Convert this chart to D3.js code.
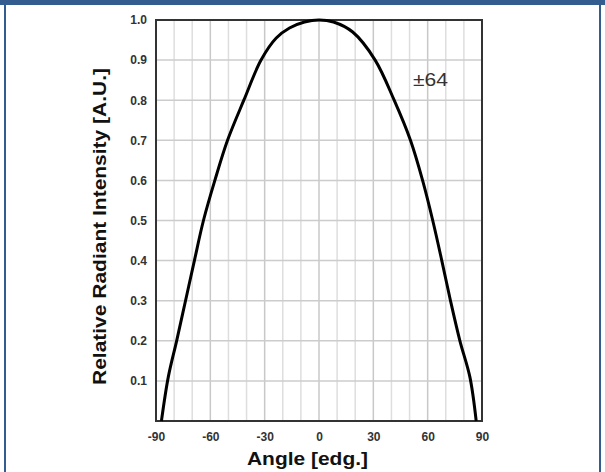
<!DOCTYPE html>
<html>
<head>
<meta charset="utf-8">
<script src="https://cdn.jsdelivr.net/npm/d3@7"></script>
<style>
  body { margin: 0; background: #fff; }
  svg { display: block; font-family: "Liberation Sans", Arial, sans-serif; }
</style>
</head>
<body>
<div id="chart"></div>
<script>
// Radiation pattern
const angles = [-87, -83.2, -78.6, -73.7, -68.8, -63.8, -57.5, -50.5, -41.5, -32, -23.6, -16.3, -8, 0,
                8, 18.6, 31, 41.5, 50.5, 57.2, 62.8, 67.8, 72.6, 77.8, 83.3, 86.8];
const intensity = [0, 0.11, 0.2, 0.3, 0.4, 0.5, 0.6, 0.7, 0.8, 0.9, 0.955, 0.98, 0.995, 1.0,
                   0.995, 0.97, 0.9, 0.8, 0.7, 0.6, 0.5, 0.4, 0.3, 0.2, 0.11, 0];
const xTicks = [-90, -60, -30, 0, 30, 60, 90];
const yTicks = [0.1, 0.2, 0.3, 0.4, 0.5, 0.6, 0.7, 0.8, 0.9, 1.0];
const annotation = '±64';

const W = 605, H = 472;
const plot = { left: 156, top: 20, right: 482, bottom: 421 };

const svg = d3.select('#chart').append('svg')
    .attr('width', W)
    .attr('height', H);

// blue frame
svg.append('rect').attr('x', 0).attr('y', 0).attr('width', W).attr('height', 5).attr('fill', '#335d8f');
svg.append('rect').attr('x', 4).attr('y', 0).attr('width', 2).attr('height', H).attr('fill', '#335d8f');
svg.append('rect').attr('x', 599).attr('y', 0).attr('width', 2).attr('height', H).attr('fill', '#335d8f');

const x = d3.scaleLinear().domain([-90, 90]).range([plot.left, plot.right]);
const y = d3.scaleLinear().domain([0, 1]).range([plot.bottom, plot.top]);

// grid
svg.append('g')
    .selectAll('line')
    .data(d3.range(-80, 90, 10))
    .enter().append('line')
    .attr('x1', d => x(d)).attr('x2', d => x(d))
    .attr('y1', plot.top).attr('y2', plot.bottom)
    .attr('stroke', d => d % 30 === 0 ? '#c8c8c8' : '#dedede')
    .attr('stroke-width', 1.5);

svg.append('g')
    .selectAll('line')
    .data(yTicks.slice(0, -1))
    .enter().append('line')
    .attr('x1', plot.left).attr('x2', plot.right)
    .attr('y1', d => y(d)).attr('y2', d => y(d))
    .attr('stroke', '#cccccc')
    .attr('stroke-width', 1.5);

// axes (labels only, frame drawn below)
const xAxis = svg.append('g')
    .attr('transform', `translate(0,${plot.bottom})`)
    .call(d3.axisBottom(x).tickValues(xTicks).tickSize(0).tickPadding(11).tickFormat(d => String(d)));
xAxis.select('.domain').remove();
xAxis.selectAll('text')
    .style('font-size', '12px')
    .style('font-weight', 'bold')
    .style('fill', '#333');

const yAxis = svg.append('g')
    .attr('transform', `translate(${plot.left},0)`)
    .call(d3.axisLeft(y).tickValues(yTicks).tickSize(0).tickPadding(9).tickFormat(d3.format('.1f')));
yAxis.select('.domain').remove();
yAxis.selectAll('text')
    .style('font-size', '12px')
    .style('font-weight', 'bold')
    .style('fill', '#333');

// plot border
svg.append('rect')
    .attr('x', plot.left).attr('y', plot.top)
    .attr('width', plot.right - plot.left)
    .attr('height', plot.bottom - plot.top)
    .attr('fill', 'none')
    .attr('stroke', '#333')
    .attr('stroke-width', 2);

// curve
const points = angles.map((a, i) => [a, intensity[i]]);
svg.append('path')
    .datum(points)
    .attr('fill', 'none')
    .attr('stroke', '#000')
    .attr('stroke-width', 3)
    .attr('stroke-linejoin', 'round')
    .attr('d', d3.line()
        .x(d => x(d[0]))
        .y(d => y(d[1]))
        .curve(d3.curveCatmullRom.alpha(0.5)));

// annotation
svg.append('text')
    .attr('x', 413).attr('y', 86)
    .attr('textLength', 35)
    .attr('lengthAdjust', 'spacingAndGlyphs')
    .style('font-size', '18px')
    .style('fill', '#333')
    .text(annotation);

// axis titles
svg.append('text')
    .attr('x', 247).attr('y', 465)
    .attr('textLength', 121)
    .attr('lengthAdjust', 'spacingAndGlyphs')
    .style('font-size', '18px')
    .style('font-weight', 'bold')
    .style('fill', '#111')
    .text('Angle [edg.]');

svg.append('text')
    .attr('transform', 'translate(106,385) rotate(-90)')
    .attr('textLength', 317)
    .attr('lengthAdjust', 'spacingAndGlyphs')
    .style('font-size', '19px')
    .style('font-weight', 'bold')
    .style('fill', '#111')
    .text('Relative Radiant Intensity [A.U.]');
</script>
</body>
</html>
